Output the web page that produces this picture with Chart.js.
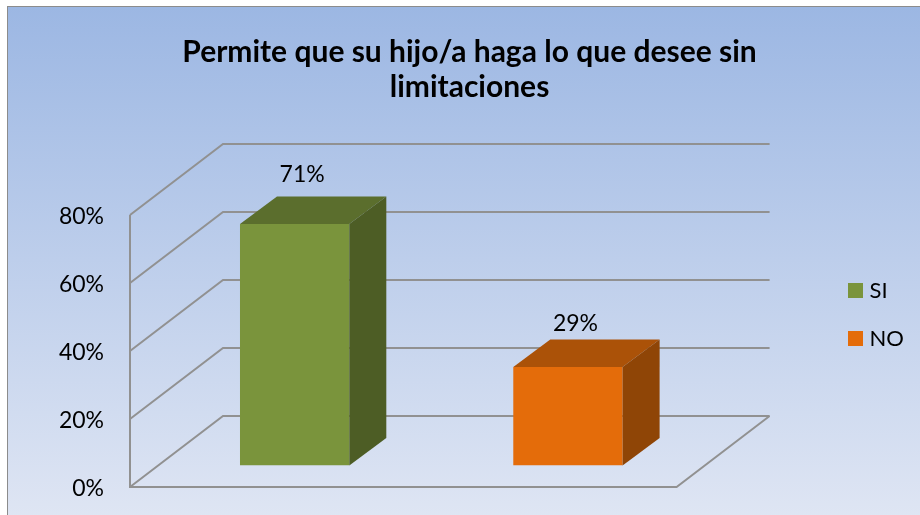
<!DOCTYPE html>
<html>
<head>
<meta charset="utf-8">
<script src="https://cdn.jsdelivr.net/npm/chart.js@4"></script>
<style>
  html, body { margin: 0; padding: 0; background: #fff; overflow: hidden; }
  #panel {
    position: absolute; left: 7px; top: 6px; width: 930px; height: 530px;
    border: 1.5px solid #8c8c8c; box-sizing: border-box;
    background: linear-gradient(to bottom, #9cb7e3 0%, #e1e7f4 100%);
  }
  #wrap { position: absolute; left: 0; top: 0; width: 920px; height: 515px; }
</style>
</head>
<body>
<div id="panel"></div>
<div id="wrap"><canvas id="chart"></canvas></div>
<script>
const categories = ['SI', 'NO'];
const values = [71, 29];
const tickValues = [0, 20, 40, 60, 80];
const titleLines = ['Permite que su hijo/a haga lo que desee sin', 'limitaciones'];

const frontColors = ['#7a943c', '#e46c0a'];
const topColors = ['#5b6e2d', '#ab5208'];
const sideColors = ['#4d5d25', '#8f4506'];
const labelLift = [22, 15.5];

const fontName = 'Lato, Carlito, sans-serif';
const wallDepth = {x: 93, y: -71};
const barShift = {x: 28, y: -21.5};
const barDepth = {x: 37, y: -27.5};

function poly(ctx, pts, color) {
    ctx.fillStyle = color;
    ctx.beginPath();
    pts.forEach((p, i) => i ? ctx.lineTo(p[0], p[1]) : ctx.moveTo(p[0], p[1]));
    ctx.closePath();
    ctx.fill();
}

// legend square as a small canvas so the text can sit closer than boxWidth allows
function swatch(color) {
    const c = document.createElement('canvas');
    c.width = 15;
    c.height = 15;
    const g = c.getContext('2d');
    g.fillStyle = color;
    g.fillRect(0, 0, 15, 15);
    return c;
}

// fake 3D: walls go behind the bars, the bars get shifted onto the floor
const box3d = {
    id: 'box3d',
    afterLayout(chart) {
        chart.titleBlock.left = 19;
        chart.titleBlock.right = 920;
        chart.legend.left = 826.5;
        chart.legend.right = 920;
        chart.legend.top = 253.5;
        chart.legend.bottom = 515;
    },
    beforeDatasetsDraw(chart) {
        const ctx = chart.ctx;
        const {left, right} = chart.chartArea;
        const y = chart.scales.y;
        ctx.save();
        ctx.strokeStyle = '#919191';
        ctx.lineWidth = 2;
        tickValues.forEach(v => {
            const py = y.getPixelForValue(v);
            ctx.beginPath();
            ctx.moveTo(left, py);
            ctx.lineTo(left + wallDepth.x, py + wallDepth.y);
            ctx.lineTo(right + wallDepth.x, py + wallDepth.y);
            ctx.stroke();
        });
        const y0 = y.getPixelForValue(0);
        ctx.beginPath();
        ctx.moveTo(left, y.getPixelForValue(80));
        ctx.lineTo(left, y0);
        ctx.lineTo(right, y0);
        ctx.lineTo(right + wallDepth.x, y0 + wallDepth.y);
        ctx.stroke();
        ctx.restore();
        ctx.save();
        ctx.translate(barShift.x, barShift.y);
    },
    afterDatasetsDraw(chart) {
        const ctx = chart.ctx;
        const bars = chart.getDatasetMeta(0).data;
        bars.forEach((bar, i) => {
            const l = bar.x - bar.width / 2, r = bar.x + bar.width / 2;
            const t = bar.y, b = bar.base;
            const dx = barDepth.x, dy = barDepth.y;
            poly(ctx, [[l, t], [l + dx, t + dy], [r + dx, t + dy], [r, t]], topColors[i]);
            poly(ctx, [[r, t], [r + dx, t + dy], [r + dx, b + dy], [r, b]], sideColors[i]);
            ctx.fillStyle = '#000';
            ctx.font = '23px ' + fontName;
            ctx.textAlign = 'center';
            ctx.textBaseline = 'middle';
            ctx.fillText(values[i] + '%', bar.x + dx / 2 - 11, t + dy - labelLift[i]);
        });
        ctx.restore();
    }
};

new Chart(document.getElementById('chart'), {
    type: 'bar',
    data: {
        labels: categories,
        datasets: [{
            data: values,
            backgroundColor: frontColors,
            barPercentage: 0.4,
            categoryPercentage: 1
        }]
    },
    options: {
        responsive: true,
        maintainAspectRatio: false,
        animation: false,
        layout: {padding: {right: 156, bottom: 28}},
        plugins: {
            title: {
                display: true,
                text: titleLines,
                color: '#000',
                font: {family: fontName, size: 30, weight: 'bold', lineHeight: 1.167},
                padding: {top: 35, bottom: 110}
            },
            legend: {
                position: 'right',
                align: 'start',
                labels: {
                    usePointStyle: true,
                    pointStyleWidth: 6,
                    boxHeight: 15,
                    padding: 26,
                    color: '#000',
                    font: {family: fontName, size: 22},
                    generateLabels: () => categories.map((c, i) => ({
                        text: c, fillStyle: frontColors[i], strokeStyle: frontColors[i],
                        lineWidth: 0, index: i, pointStyle: swatch(frontColors[i])
                    }))
                }
            },
            tooltip: {enabled: false}
        },
        scales: {
            x: {
                afterFit(scale) { scale.height = 0; },
                grid: {display: false},
                border: {display: false},
                ticks: {display: false}
            },
            y: {
                min: 0,
                max: 80,
                // tick padding would otherwise push the plot bottom up
                afterFit(scale) {
                    scale.width = 130;
                    scale.paddingTop = 0;
                    scale.paddingBottom = 0;
                },
                grid: {display: false, drawTicks: false},
                border: {display: false},
                ticks: {
                    stepSize: 20,
                    padding: 26,
                    labelOffset: 2,
                    color: '#000',
                    font: {family: fontName, size: 23},
                    callback: v => v + '%'
                }
            }
        }
    },
    plugins: [box3d]
});
</script>
</body>
</html>
